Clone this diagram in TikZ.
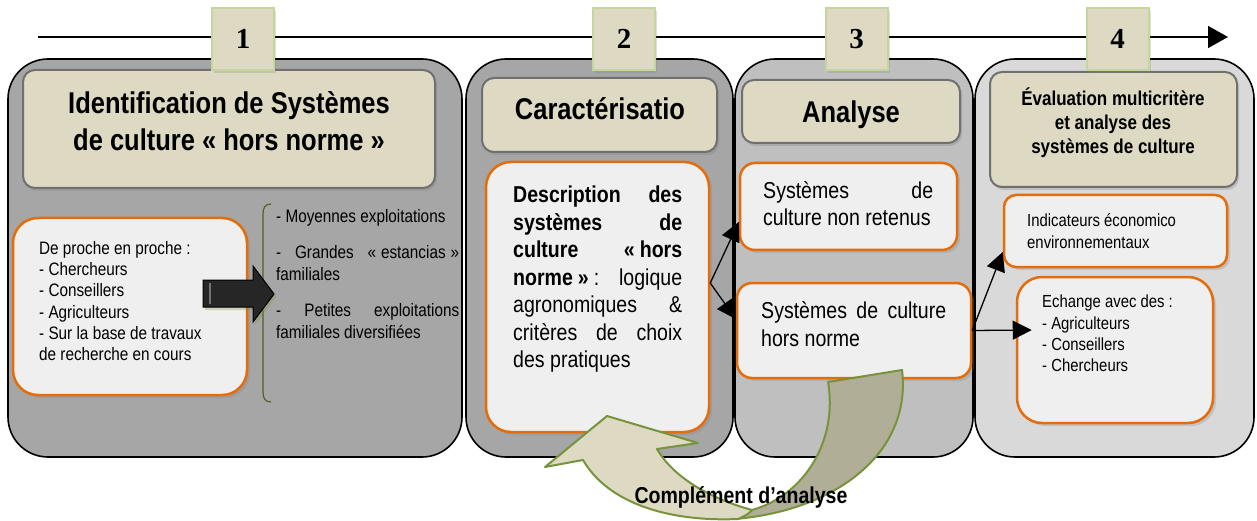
\documentclass[tikz,border=0pt]{standalone}
\usepackage{fontspec}
\setmainfont{Liberation Sans}[FakeStretch=0.85]
\newfontfamily\numfont{Liberation Serif}
\usetikzlibrary{arrows.meta,shadows,fit}
\hyphenpenalty=10000
\exhyphenpenalty=10000
\tolerance=10000
\hbadness=10000
\newcommand\fsz[2]{\fontsize{#1}{#2}\selectfont}
\definecolor{panelA}{HTML}{A6A6A6}
\definecolor{panelB}{HTML}{BFBFBF}
\definecolor{panelC}{HTML}{D9D9D9}
\definecolor{beige}{HTML}{DDD9C3}
\definecolor{titleline}{HTML}{707070}
\definecolor{numline}{HTML}{C3D69B}
\definecolor{orangeline}{HTML}{E46C0A}
\definecolor{boxfill}{HTML}{EFEFEF}
\definecolor{olive}{HTML}{77933C}
\definecolor{bracegreen}{HTML}{4F6228}
\definecolor{darkbeige}{HTML}{B1AE98}
\tikzset{
  panel/.style={draw=black, line width=1.6pt, rounded corners=40pt, inner sep=0pt},
  titlebox/.style={draw=titleline, fill=beige, line width=2pt, rounded corners=12pt, inner sep=0pt,
    drop shadow={opacity=0.3, shadow xshift=2pt, shadow yshift=-3pt}},
  numbox/.style={draw=numline, fill=beige, line width=2pt, inner sep=0pt, minimum width=62pt,
    minimum height=62pt, font=\numfont\bfseries\fsz{29}{30},
    drop shadow={opacity=0.25, shadow xshift=2pt, shadow yshift=-3pt}},
  obox/.style={draw=orangeline, fill=boxfill, line width=2.5pt, inner sep=0pt,
    drop shadow={opacity=0.25, shadow xshift=3pt, shadow yshift=-3pt}},
  txt/.style={inner sep=0pt, anchor=north west, align=justify},
  titletxt/.style={inner sep=0pt, align=center},
  conn/.style={line width=1.3pt, -{Triangle[length=19pt,width=19pt]}},
  curvearrow/.style={draw=olive, line width=2pt, line join=round},
}
\begin{document}
\begin{tikzpicture}[x=1pt,y=-1pt]
\useasboundingbox (0,0) rectangle (1257,521);
\fill[white] (0,0) rectangle (1257,521);

% timeline
\coordinate (tlstart) at (38,37);
\coordinate (tlend) at (1228,37);
\draw[line width=1.5pt,-{Triangle[length=20pt,width=22pt]}] (tlstart) -- (tlend);

% panels
\node[panel, fill=panelA, fit={(8,59)(462,457)}] (p1) {};
\node[panel, fill=panelA, fit={(466,59)(733,457)}] (p2) {};
\node[panel, fill=panelB, fit={(735,59)(973,457)}] (p3) {};
\node[panel, fill=panelC, fit={(975,59)(1254,457)}] (p4) {};

% title boxes
\node[titlebox, fit={(23,70)(435,188)}] (t1) {};
\node[titlebox, fit={(482,78)(717,152)}] (t2) {};
\node[titlebox, fit={(742,80)(960,143)}] (t3) {};
\node[titlebox, fit={(990,72)(1237,187)}] (t4) {};
\node[titletxt, anchor=north, font=\bfseries\fsz{30}{37}] (t1t) at (229,91)
  {Identification de Systèmes\\de culture «\kern7pt hors norme\kern7pt»};
\node[titletxt, anchor=base, font=\bfseries\fsz{30}{36}] (t2t) at (600,120) {Caractérisatio};
\node[titletxt, anchor=base, font=\bfseries\fsz{30}{36}] (t3t) at (851,123) {Analyse};
\node[titletxt, anchor=north, font=\bfseries\fsz{20}{24}] (t4t) at (1113,88)
  {Évaluation multicritère\\et analyse des\\systèmes de culture};

% number boxes
\node[numbox] (n1) at (243,39) {1};
\node[numbox] (n2) at (624,39) {2};
\node[numbox] (n3) at (856.5,39) {3};
\node[numbox] (n4) at (1117.5,39) {4};

% orange boxes
\node[obox, rounded corners=25pt, fit={(13,218)(247,395)}] (b1) {};
\node[obox, rounded corners=25pt, fit={(486,162)(709,432)}] (b2) {};
\node[obox, rounded corners=15pt, fit={(740,163)(957,250)}] (b3a) {};
\node[obox, rounded corners=15pt, fit={(737,283)(971,378)}] (b3b) {};
\node[obox, rounded corners=12pt, fit={(1004,195)(1227,267)}] (b4a) {};
\node[obox, rounded corners=25pt, fit={(1017,277)(1213,423)}] (b4b) {};

% texts in boxes
\node[txt, align=left, font=\fsz{18}{21.3}] (b1t) at (39,241)
  {De proche en proche :\\- Chercheurs\\- Conseillers\\- Agriculteurs\\- Sur la base de travaux\\de recherche en cours};
\node[txt, text width=183pt, font=\fsz{18}{21.5}] (bt) at (276,209)
  {- Moyennes exploitations\\[15pt]- Grandes «\kern5pt estancias\kern5pt» familiales\\[15pt]- Petites exploitations familiales diversifiées};
\node[txt, text width=169pt, font=\fsz{23}{27.5}] (b2t) at (513,186)
  {\textbf{Description des systèmes de culture «\kern5pt hors norme\kern5pt»}\kern5pt: logique agronomiques \& critères de choix des pratiques};
\node[txt, text width=170pt, font=\fsz{23}{27}] (b3at) at (763,181) {Systèmes de culture non retenus};
\node[txt, text width=185pt, font=\fsz{23}{28}] (b3bt) at (761,301) {Systèmes de culture hors norme};
\node[txt, align=left, font=\fsz{17.5}{22}] (b4at) at (1027,213) {Indicateurs économico\\environnementaux};
\node[txt, align=left, font=\fsz{17.5}{21.3}] (b4bt) at (1042,295)
  {Echange avec des :\\- Agriculteurs\\- Conseillers\\- Chercheurs};

% brace
\draw[bracegreen, line width=1.2pt] (271,204) .. controls (265,204) and (263,208) .. (263,214)
  -- (263,294) .. controls (263,300) and (260,303) .. (256,303)
  .. controls (260,303) and (263,306) .. (263,312) -- (263,392)
  .. controls (263,398) and (265,402) .. (271,402);

% black block arrow
\fill[black!85, drop shadow={opacity=0.3, color=olive, shadow xshift=2pt, shadow yshift=-3pt}]
  (203,280) -- (253,280) -- (253,266) -- (274,294) -- (253,322) -- (253,307) -- (203,307) -- cycle;
\draw[black, line width=1pt] (203,280) -- (253,280) -- (253,266) -- (274,294) -- (253,322) -- (253,307) -- (203,307) -- cycle;
\draw[black!55, line width=1.2pt] (210,283) -- (210,304);

% connectors
\draw[conn] ([yshift=14pt]b2.east) -- ([yshift=-15.5pt]b3a.west);
\draw[conn] ([yshift=14pt]b2.east) -- ([yshift=11.5pt]b3b.west);
\draw[conn] (b3b.east) -- ([yshift=-21pt]b4a.west);
\draw[conn] (b3b.east) -- ([xshift=16pt,yshift=20pt]b4b.west);

% curved arrow "Complement d'analyse"
\filldraw[curvearrow, fill=darkbeige]
  (902,370) .. controls (912,450) and (840,510) .. (735,519)
  -- (752,510) .. controls (805,495) and (838,440) .. (828,382) -- cycle;
\filldraw[curvearrow, fill=beige]
  (545,467) -- (583,460) .. controls (608,503) and (668,522) .. (738,519)
  .. controls (745,516) and (750,513) .. (752,510)
  .. controls (715,500) and (675,480) .. (657,449) -- (698,443) -- (607,416) -- cycle;
\node[inner sep=0pt, anchor=base, font=\bfseries\fsz{23}{27}] (cpl) at (741,503) {Complément d’analyse};
\end{tikzpicture}
\end{document}
